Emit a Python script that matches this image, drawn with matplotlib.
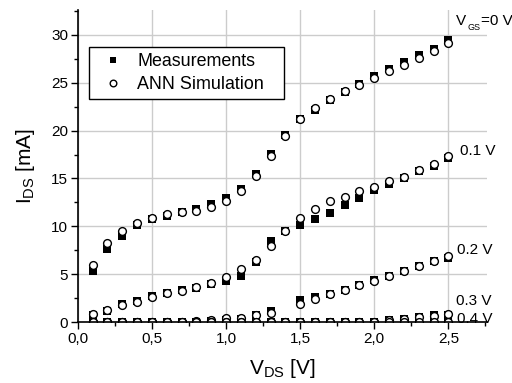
import numpy as np
import matplotlib
matplotlib.use('Agg')
import matplotlib.pyplot as plt
from matplotlib.ticker import MultipleLocator, FuncFormatter

plt.rcParams['font.family'] = ['Liberation Sans', 'DejaVu Sans']
plt.rcParams['mathtext.fontset'] = 'custom'
plt.rcParams['mathtext.rm'] = 'Liberation Sans'
plt.rcParams['mathtext.it'] = 'Liberation Sans'

nan = np.nan

# Drain-source voltage sweep [V]
vds = [0.1, 0.2, 0.3, 0.4, 0.5, 0.6, 0.7, 0.8, 0.9, 1.0,
       1.1, 1.2, 1.3, 1.4, 1.5, 1.6, 1.7, 1.8, 1.9, 2.0,
       2.1, 2.2, 2.3, 2.4, 2.5]

# Measured drain current [mA] per gate voltage
meas_0v0 = [5.35, 7.6, 9.0, 10.1, 10.75, 11.1, 11.5, 11.85, 12.3, 12.95,
            13.9, 15.45, 17.6, 19.5, 21.2, 22.2, 23.2, 24.0, 24.9, 25.75,
            26.45, 27.2, 27.9, 28.55, 29.5]
meas_0v1 = [0.7, 1.2, 1.85, 2.25, 2.7, 3.05, 3.35, 3.6, 3.95, 4.25,
            4.85, 6.25, 8.45, 9.5, 10.1, 10.8, 11.4, 12.2, 12.95, 13.75,
            14.4, 15.05, 15.75, 16.35, 17.1]
meas_0v2 = [0.0, 0.0, 0.0, 0.0, 0.0, 0.0, 0.0, 0.05, 0.1, 0.25,
            0.35, 0.75, 1.2, nan, 2.3, 2.65, 2.95, 3.4, 3.9, 4.35,
            4.85, 5.3, 5.9, 6.4, 6.7]
meas_0v3 = [0.0, 0.0, 0.0, 0.0, 0.0, 0.0, 0.0, 0.0, 0.0, 0.0,
            0.0, 0.0, 0.0, 0.0, 0.0, 0.0, 0.0, 0.0, 0.0, 0.05,
            0.2, 0.35, 0.55, 0.75, 0.7]
meas_0v4 = [0.0, 0.0, 0.0, 0.0, 0.0, 0.0, 0.0, 0.0, 0.0, 0.0,
            0.0, 0.0, 0.0, 0.0, 0.0, 0.0, 0.0, 0.0, 0.0, 0.0,
            0.0, 0.0, 0.0, 0.0, 0.0]

# ANN simulated drain current [mA]
ann_0v0 = [5.95, 8.3, 9.5, 10.4, 10.9, 11.25, 11.45, 11.65, 12.0, 12.65,
           13.7, 15.25, 17.3, 19.45, 21.2, 22.4, 23.35, 24.15, 24.8, 25.5,
           26.2, 26.9, 27.6, 28.35, 29.1]
ann_0v1 = [0.83, 1.25, 1.77, 2.15, 2.6, 3.0, 3.3, 3.7, 4.1, 4.75,
           5.5, 6.5, 7.95, 9.5, 10.85, 11.85, 12.6, 13.1, 13.65, 14.15,
           14.7, 15.2, 15.85, 16.5, 17.3]
ann_0v2 = [0.0, 0.0, 0.0, 0.0, 0.0, 0.03, 0.05, 0.08, 0.2, 0.38,
           0.42, 0.7, 1.0, nan, 1.9, 2.45, 2.9, 3.35, 3.85, 4.3,
           4.8, 5.3, 5.9, 6.4, 6.95]
ann_0v3 = [0.0, 0.0, 0.0, 0.0, 0.0, 0.0, 0.0, 0.0, 0.0, 0.0,
           0.0, 0.0, 0.0, 0.0, 0.0, 0.0, 0.0, 0.0, 0.0, 0.05,
           0.2, 0.35, 0.5, 0.65, 0.85]
ann_0v4 = [0.0, 0.0, 0.0, 0.0, 0.0, 0.0, 0.0, 0.0, 0.0, 0.0,
           0.0, 0.0, 0.0, 0.0, 0.0, 0.0, 0.0, 0.0, 0.0, 0.0,
           0.0, 0.0, 0.0, 0.0, 0.0]

measured = [meas_0v0, meas_0v1, meas_0v2, meas_0v3, meas_0v4]
simulated = [ann_0v0, ann_0v1, ann_0v2, ann_0v3, ann_0v4]

curve_labels = ['0.1 V', '0.2 V', '0.3 V', '0.4 V']
label_pos = [(2.58, 17.9), (2.56, 7.5), (2.55, 2.2), (2.56, 0.3)]

fig = plt.figure(figsize=(5.12, 3.83), dpi=100)
ax = fig.add_axes([0.152, 0.159, 0.799, 0.815])

for i in range(len(measured)):
    ax.plot(vds, measured[i], 's', color='black', markersize=5.2,
            markeredgewidth=0, zorder=3,
            label='Measurements' if i == 0 else None)
    ax.plot(vds, simulated[i], 'o', markerfacecolor='white',
            markeredgecolor='black', markersize=5.6, markeredgewidth=1.0,
            zorder=4, label='ANN Simulation' if i == 0 else None)

# top curve label with a small subscript
ax.annotate('V', xy=(2.55, 31.4), fontsize=11, va='center', ha='left',
            annotation_clip=False)
ax.annotate('GS', xy=(2.55, 31.4), xytext=(8.3, -4), textcoords='offset points',
            fontsize=6.5, va='center', ha='left', annotation_clip=False)
ax.annotate('=0 V', xy=(2.55, 31.4), xytext=(18.5, 0), textcoords='offset points',
            fontsize=11, va='center', ha='left', annotation_clip=False)

for lab, (tx, ty) in zip(curve_labels, label_pos):
    ax.text(tx, ty, lab, fontsize=11, va='center', ha='left', clip_on=False,
            zorder=6)

ax.set_xlim(0, 2.76)
ax.set_ylim(0, 32.6)

ax.xaxis.set_major_locator(MultipleLocator(0.5))
ax.xaxis.set_minor_locator(MultipleLocator(0.25))
ax.yaxis.set_major_locator(MultipleLocator(5))
ax.yaxis.set_minor_locator(MultipleLocator(2.5))
ax.xaxis.set_major_formatter(FuncFormatter(lambda v, p: ('%.1f' % v).replace('.', ',')))

ax.grid(True, which='major', color='#cccccc', linewidth=1.0, zorder=0)
ax.set_axisbelow(True)

for s in ['top', 'right']:
    ax.spines[s].set_visible(False)
for s in ['left', 'bottom']:
    ax.spines[s].set_linewidth(1.2)
    ax.spines[s].set_zorder(5)

ax.tick_params(which='major', direction='out', length=5, width=1.0,
               labelsize=11, pad=2)
ax.tick_params(which='minor', direction='out', length=3, width=1.0)

ax.set_xlabel(r'V$_{\rm DS}$ [V]', fontsize=15, labelpad=8)
ax.set_ylabel(r'I$_{\rm DS}$ [mA]', fontsize=15, labelpad=10)

# legend box stretched to the reference width
leg = ax.legend(loc='upper left', bbox_to_anchor=(0.027, 0.5, 0.477, 0.381),
                mode='expand', borderaxespad=0, fontsize=12.9, fancybox=False,
                edgecolor='black', framealpha=1, handletextpad=0.35,
                borderpad=0.35, labelspacing=0.32, markerscale=0.85)
leg.get_frame().set_linewidth(1.0)

fig.savefig('out.png', dpi=100)
